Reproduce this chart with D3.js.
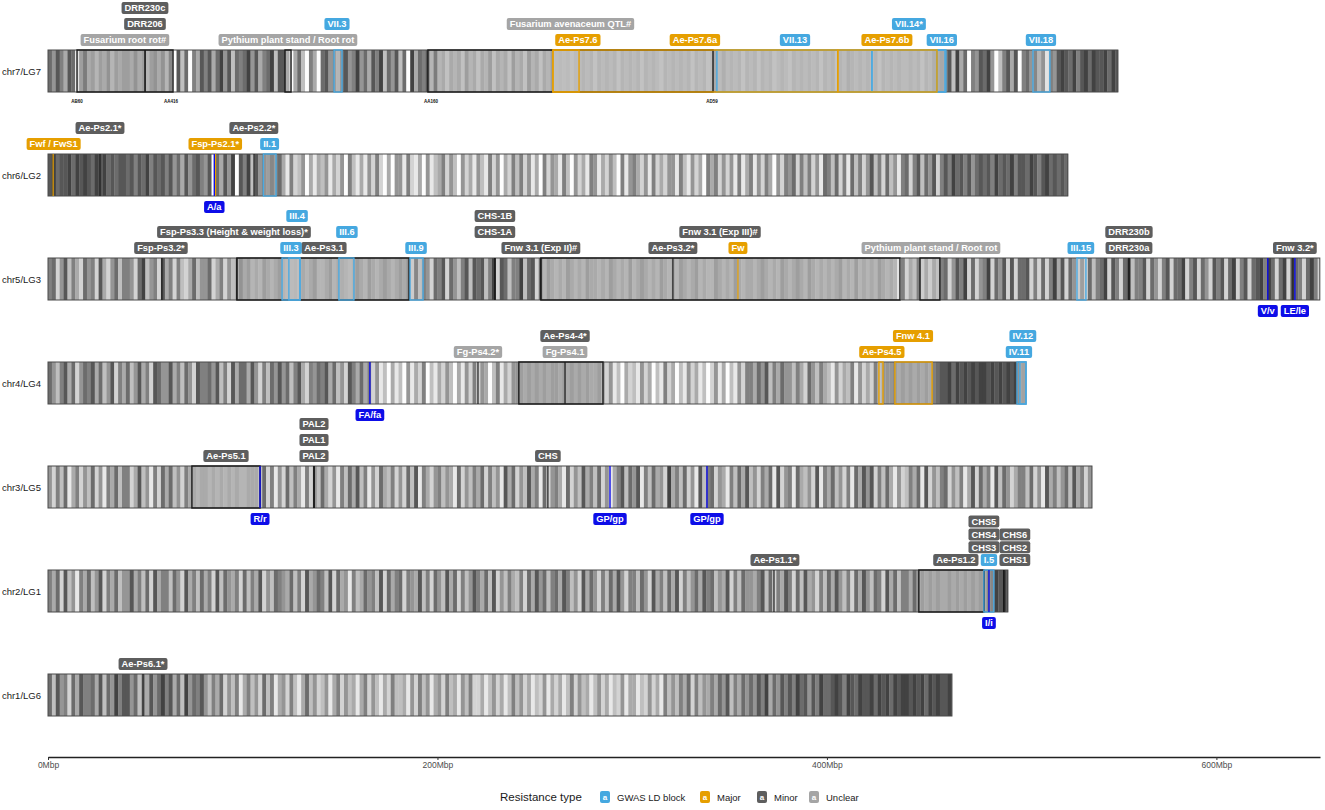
<!DOCTYPE html>
<html>
<head>
<meta charset="utf-8">
<script src="https://cdn.jsdelivr.net/npm/d3@7"></script>
<style>
body { margin: 0; background: #fff; }
svg { font-family: "Liberation Sans", Arial, Helvetica, sans-serif; }
</style>
</head>
<body>
<svg id="chart" width="1325" height="810"></svg>
<script>
// chromosomes, top to bottom
const chromosomes = ["chr7/LG7", "chr6/LG2", "chr5/LG3", "chr4/LG4", "chr3/LG5", "chr2/LG1", "chr1/LG6"]
const chrLengths = [549.4, 523.7, 653.1, 502.2, 536.1, 492.9, 464.2]

// marker density per 2 Mbp bin, 0 = none (white) .. 9 = dense (dark)
const binSize = 2
const density = [
  "7586487069" + "5646574656" + "6575646757" + "4808370648" + "6847958376" + "7958467938" + "8504730640" + "7856478569" + "5748693758" + "3709476849" +
  "4535453645" + "3546354536" + "4536453546" + "4545354545" + "3545453545" + "4535454354" + "5454535453" + "4546454535" + "4535453454" + "3545454535" +
  "4535465454" + "5453545454" + "4545354667" + "6839470658" + "7950368480" + "6758470658" + "9879689798" + "89798",
  "8978897989" + "8798978788" + "7868796878" + "6857485786" + "5807485908" + "6938576867" + "4162350414" + "3514250631" + "4152620405" + "5162140513" +
  "4625305241" + "5316250426" + "3625140625" + "4163052416" + "5142530615" + "6425162425" + "5163152406" + "4625251614" + "6152640526" + "5726362517" +
  "6372617362" + "5836273516" + "7268375826" + "8697868578" + "7869787968" + "8798689787" + "87",
  "6725836427" + "5628425736" + "6527935628" + "4626324735" + "5724625347" + "5645465456" + "5456454564" + "4564565456" + "5465456545" + "6572836527" +
  "6827536838" + "7836928736" + "6937827465" + "4546545465" + "5454654546" + "4565454654" + "5465456454" + "4654546545" + "5456545465" + "4565465454" +
  "5456454645" + "4546545406" + "2436252536" + "7258692725" + "6927582827" + "7826272694" + "8275262736" + "7928627836" + "6827526827" + "7926827528" +
  "6827926827" + "8969727928" + "7627962",
  "7536847257" + "6847358264" + "7358462875" + "5846375286" + "6758362847" + "7485263758" + "5736842657" + "6847352864" + "7462513041" + "3051426031" +
  "4253041526" + "2540361425" + "5656565656" + "6565656565" + "5642513042" + "3152403162" + "4031524130" + "2514031526" + "6475836475" + "5364275364" +
  "3152436152" + "4263555656" + "5656565678" + "8979898989" + "9898989897" + "8",
  "5263714625" + "3725164736" + "6248351627" + "4735264545" + "5454545454" + "4555372615" + "2736416253" + "7425163748" + "3615274362" + "5273816425" +
  "6354172536" + "4726351847" + "2538461725" + "6417253846" + "3725146837" + "5816374529" + "4637251836" + "7254163748" + "3526471825" + "6174352816" +
  "4735261748" + "5826374152" + "3647182536" + "7253614827" + "4618375246" + "6372518463" + "57384625",
  "6472835164" + "7358264735" + "5846372846" + "6375284637" + "4628375462" + "7364825376" + "5473628457" + "6382745163" + "4756382746" + "7265483627" +
  "5384726358" + "6473825364" + "3627485736" + "7486352847" + "5263748526" + "6375284637" + "4826357486" + "7354826375" + "5468372648" + "6273845263" +
  "7485362748" + "5376284736" + "6475656565" + "5656565656" + "5889898",
  "7385627486" + "6748375968" + "8573648579" + "6847395768" + "5364725361" + "4635273614" + "5263147352" + "3514625341" + "4625314263" + "3415263514" +
  "5263415362" + "2413524136" + "3524132514" + "2413625341" + "3524132514" + "4132524163" + "5364726354" + "6475836475" + "7586947586" + "8697858697" +
  "7898698798" + "8979897989" + "9898979898" + "89"
]

// resistance loci: chromosome, name, type, start Mbp, end Mbp, label lane, label position Mbp
const loci = [
  ["chr7/LG7", "Fusarium root rot#", "Unclear", 14.9, 64.2, 1, 39.5],
  ["chr7/LG7", "DRR206", "Minor", 49.5, 50.2, 2, 49.8],
  ["chr7/LG7", "DRR230c", "Minor", 49.5, 50.2, 3, 49.8],
  ["chr7/LG7", "Pythium plant stand / Root rot", "Unclear", 121.7, 124.8, 1, 123.2],
  ["chr7/LG7", "VII.3", "GWAS", 146.9, 151.0, 2, 148.4],
  ["chr7/LG7", "Fusarium avenaceum QTL#", "Unclear", 195.1, 341.5, 2, 268.3],
  ["chr7/LG7", "Ae-Ps7.6", "Major", 259.3, 272.7, 1, 272.1],
  ["chr7/LG7", "Ae-Ps7.6a", "Major", 259.3, 405.6, 1, 332.2],
  ["chr7/LG7", "VII.13", "GWAS", 343.5, 423.1, 1, 383.6],
  ["chr7/LG7", "Ae-Ps7.6b", "Major", 405.6, 456.5, 1, 430.8],
  ["chr7/LG7", "VII.14*", "GWAS", 423.1, 461.1, 2, 442.1],
  ["chr7/LG7", "VII.16", "GWAS", 456.5, 460.6, 1, 459.0],
  ["chr7/LG7", "VII.18", "GWAS", 505.8, 514.5, 1, 509.9],
  ["chr6/LG2", "Fwf / FwS1", "Major", 2.4, 2.9, 1, 2.9],
  ["chr6/LG2", "Ae-Ps2.1*", "Minor", 26.4, 27.0, 2, 26.7],
  ["chr6/LG2", "Fsp-Ps2.1*", "Major", 85.8, 86.3, 1, 85.9],
  ["chr6/LG2", "Ae-Ps2.2*", "Minor", 105.5, 106.1, 2, 105.7],
  ["chr6/LG2", "II.1", "GWAS", 110.6, 117.1, 1, 113.8],
  ["chr5/LG3", "Fsp-Ps3.2*", "Minor", 58.2, 58.8, 1, 58.0],
  ["chr5/LG3", "Fsp-Ps3.3 (Height & weight loss)*", "Minor", 96.7, 97.3, 2, 95.5],
  ["chr5/LG3", "Ae-Ps3.1", "Minor", 97.0, 185.4, 1, 141.7],
  ["chr5/LG3", "III.3", "GWAS", 120.2, 129.4, 1, 124.8],
  ["chr5/LG3", "III.4", "GWAS", 123.7, 129.4, 3, 127.9],
  ["chr5/LG3", "III.6", "GWAS", 149.4, 157.1, 2, 153.5],
  ["chr5/LG3", "III.9", "GWAS", 185.9, 192.6, 1, 189.0],
  ["chr5/LG3", "CHS-1A", "Minor", 229.2, 229.8, 2, 229.5],
  ["chr5/LG3", "CHS-1B", "Minor", 229.2, 229.8, 3, 229.5],
  ["chr5/LG3", "Fnw 3.1 (Exp II)#", "Minor", 252.8, 253.4, 1, 253.1],
  ["chr5/LG3", "Fnw 3.1 (Exp III)#", "Minor", 253.1, 437.5, 2, 345.1],
  ["chr5/LG3", "Ae-Ps3.2*", "Minor", 320.6, 321.2, 1, 320.9],
  ["chr5/LG3", "Fw", "Major", 354.0, 354.6, 1, 354.3],
  ["chr5/LG3", "Pythium plant stand / Root rot", "Unclear", 447.8, 458.0, 1, 453.4],
  ["chr5/LG3", "III.15", "GWAS", 528.4, 533.0, 1, 530.4],
  ["chr5/LG3", "DRR230a", "Minor", 554.8, 555.4, 1, 555.1],
  ["chr5/LG3", "DRR230b", "Minor", 554.8, 555.4, 2, 555.1],
  ["chr5/LG3", "Fnw 3.2*", "Minor", 639.0, 639.6, 1, 640.3],
  ["chr4/LG4", "Fg-Ps4.2*", "Unclear", 220.5, 221.1, 1, 220.8],
  ["chr4/LG4", "Ae-Ps4-4*", "Minor", 241.8, 285.0, 2, 265.5],
  ["chr4/LG4", "Fg-Ps4.1", "Unclear", 265.2, 265.8, 1, 265.5],
  ["chr4/LG4", "Ae-Ps4.5", "Major", 426.7, 428.8, 1, 428.2],
  ["chr4/LG4", "Fnw 4.1", "Major", 434.9, 454.0, 2, 444.2],
  ["chr4/LG4", "IV.11", "GWAS", 497.6, 502.2, 1, 498.6],
  ["chr4/LG4", "IV.12", "GWAS", 499.1, 502.2, 2, 500.6],
  ["chr3/LG5", "Ae-Ps5.1", "Minor", 73.9, 108.9, 1, 91.4],
  ["chr3/LG5", "PAL2", "Minor", 136.3, 136.9, 1, 136.6],
  ["chr3/LG5", "PAL1", "Minor", 136.3, 136.9, 2, 136.6],
  ["chr3/LG5", "PAL2", "Minor", 136.3, 136.9, 3, 136.6],
  ["chr3/LG5", "CHS", "Minor", 256.4, 257.0, 1, 256.7],
  ["chr2/LG1", "Ae-Ps1.1*", "Minor", 372.5, 373.1, 1, 373.3],
  ["chr2/LG1", "Ae-Ps1.2", "Minor", 447.2, 480.6, 1, 466.2],
  ["chr2/LG1", "I.5", "GWAS", 480.6, 485.7, 1, 483.2],
  ["chr2/LG1", "CHS3", "Minor", 480.3, 480.9, 1.8, 480.6],
  ["chr2/LG1", "CHS4", "Minor", 480.3, 480.9, 2.6, 480.6],
  ["chr2/LG1", "CHS5", "Minor", 480.3, 480.9, 3.4, 480.6],
  ["chr2/LG1", "CHS1", "Minor", 490.5, 491.1, 1, 496.5],
  ["chr2/LG1", "CHS2", "Minor", 490.5, 491.1, 1.8, 496.5],
  ["chr2/LG1", "CHS6", "Minor", 490.5, 491.1, 2.6, 496.5],
  ["chr1/LG6", "Ae-Ps6.1*", "Minor", 48.5, 49.1, 1, 48.8]
]

// classical genes (blue, labelled under the bar)
const geneChr = ["chr6/LG2", "chr5/LG3", "chr5/LG3", "chr4/LG4", "chr3/LG5", "chr3/LG5", "chr3/LG5", "chr2/LG1"]
const geneName = ["A/a", "V/v", "LE/le", "FA/fa", "R/r", "GP/gp", "GP/gp", "I/i"]
const genePos = [85.4, 626.4, 640.3, 165.3, 108.9, 288.6, 338.4, 483.2]

// flanking markers printed under chr7
const markerName = ["AB60", "AA416", "AA160", "AD59"]
const markerPos = [14.9, 63.2, 196.7, 341.0]

const axisTicks = [0, 200, 400, 600]
const typeKeys = ["GWAS", "Major", "Minor", "Unclear"]
const typeLabels = ["GWAS LD block", "Major", "Minor", "Unclear"]

const typeColor = { GWAS: "#45a8e0", Major: "#e69f00", Minor: "#5e5e5e", Unclear: "#a5a5a5" }
const typeStroke = { GWAS: "#4aaae2", Major: "#e69f00", Minor: "#1a1a1a", Unclear: "#1a1a1a" }
const geneColor = "#0d0de8"

let svg = d3.select('#chart')

let x = d3.scaleLinear().domain([0, 653.2]).range([48, 1320])
let y = d3.scalePoint().domain(chromosomes).range([71, 695])
const barH = 42
let gray = d3.scaleLinear().domain([0, 9]).range(["#fdfdfd", "#424242"])

function barTop (chr) { return y(chr) - barH / 2 }

// stripes
chromosomes.forEach((chr, i) => {
    let vals = density[i].split('').map(Number)
    let len = chrLengths[i]
    svg.append('g').selectAll('rect')
        .data(vals)
        .enter()
        .append('rect')
        .attr('x', (d, j) => x(j * binSize))
        .attr('y', barTop(chr))
        .attr('width', (d, j) => {
            let s = j * binSize
            let e = Math.min((j + 1) * binSize, len)
            return Math.max(0, x(e) - x(s) + 0.3)
        })
        .attr('height', barH)
        .attr('fill', d => gray(d))
})

const order = { Unclear: 0, Minor: 1, GWAS: 2, Major: 3 }
let lociData = loci.map(r => ({ chr: r[0], name: r[1], type: r[2], start: r[3], end: r[4], lane: r[5], lx: r[6] }))
let blocks = lociData.filter(d => x(d.end) - x(d.start) >= 3)
let narrow = lociData.filter(d => x(d.end) - x(d.start) < 3)

// muted fill inside blocks
svg.append('g').selectAll('rect')
    .data(blocks)
    .enter()
    .append('rect')
    .attr('x', d => x(d.start))
    .attr('y', d => barTop(d.chr))
    .attr('width', d => x(d.end) - x(d.start))
    .attr('height', barH)
    .attr('fill', '#c4c4c4')
    .attr('opacity', 0.45)

// chromosome outlines
svg.append('g').selectAll('rect')
    .data(chromosomes)
    .enter()
    .append('rect')
    .attr('x', x(0))
    .attr('y', d => barTop(d))
    .attr('width', (d, i) => x(chrLengths[i]) - x(0))
    .attr('height', barH)
    .attr('fill', 'none')
    .attr('stroke', '#4a4a4a')
    .attr('stroke-width', 1)

// chromosome names
svg.append('g').selectAll('text')
    .data(chromosomes)
    .enter()
    .append('text')
    .attr('x', 41)
    .attr('y', d => y(d) + 3.5)
    .attr('text-anchor', 'end')
    .attr('font-size', '9.5px')
    .attr('fill', '#1a1a1a')
    .text(d => d)

// narrow loci as lines
svg.append('g').selectAll('line')
    .data(narrow.slice().sort((a, b) => order[a.type] - order[b.type]))
    .enter()
    .append('line')
    .attr('x1', d => x((d.start + d.end) / 2))
    .attr('x2', d => x((d.start + d.end) / 2))
    .attr('y1', d => barTop(d.chr))
    .attr('y2', d => barTop(d.chr) + barH)
    .attr('stroke', d => typeStroke[d.type])
    .attr('stroke-width', 1.2)

// block outlines
svg.append('g').selectAll('rect')
    .data(blocks.slice().sort((a, b) => order[a.type] - order[b.type]))
    .enter()
    .append('rect')
    .attr('x', d => x(d.start))
    .attr('y', d => barTop(d.chr))
    .attr('width', d => x(d.end) - x(d.start))
    .attr('height', barH)
    .attr('fill', 'none')
    .attr('stroke', d => typeStroke[d.type])
    .attr('stroke-width', 1.4)

// genes
let genes = geneName.map((n, i) => ({ chr: geneChr[i], name: n, pos: genePos[i] }))
svg.append('g').selectAll('line')
    .data(genes)
    .enter()
    .append('line')
    .attr('x1', d => x(d.pos))
    .attr('x2', d => x(d.pos))
    .attr('y1', d => barTop(d.chr))
    .attr('y2', d => barTop(d.chr) + barH)
    .attr('stroke', geneColor)
    .attr('stroke-width', 1.4)

// label box helper
function drawLabel (g, text, cx, cy, fill) {
    let grp = g.append('g')
    let rect = grp.append('rect')
    let t = grp.append('text')
        .attr('x', cx)
        .attr('y', cy + 3.3)
        .attr('text-anchor', 'middle')
        .attr('font-size', '9.3px')
        .attr('font-weight', 'bold')
        .attr('fill', '#ffffff')
        .text(text)
    let w = t.node().getComputedTextLength() + 6
    rect.attr('x', cx - w / 2)
        .attr('y', cy - 6)
        .attr('width', w)
        .attr('height', 12)
        .attr('rx', 2)
        .attr('fill', fill)
}

let labelLayer = svg.append('g')
lociData.forEach(d => {
    let cy = barTop(d.chr) - 10 - (d.lane - 1) * 16
    drawLabel(labelLayer, d.name, x(d.lx), cy, typeColor[d.type])
})
genes.forEach(d => {
    drawLabel(labelLayer, d.name, x(d.pos), barTop(d.chr) + barH + 11, geneColor)
})

// small marker names under chr7
svg.append('g').selectAll('text')
    .data(markerName)
    .enter()
    .append('text')
    .attr('x', (d, i) => x(markerPos[i]))
    .attr('y', barTop('chr7/LG7') + barH + 11)
    .attr('text-anchor', 'middle')
    .attr('font-size', '4.5px')
    .attr('font-weight', 'bold')
    .attr('fill', '#111')
    .text(d => d)

// x axis
let axis = d3.axisBottom(x)
    .tickValues(axisTicks)
    .tickFormat(d => d + 'Mbp')
    .tickSize(3)
    .tickSizeOuter(0)
let ag = svg.append('g')
    .attr('transform', 'translate(0,757)')
    .call(axis)
ag.select('.domain').attr('stroke', '#222').attr('stroke-width', 1.3)
ag.selectAll('.tick line').attr('stroke', '#333')
ag.selectAll('.tick text')
    .attr('font-size', '8.5px')
    .attr('font-family', '"Liberation Sans", Arial, sans-serif')
    .attr('fill', '#4d4d4d')
    .attr('dy', '0.6em')

// legend
let lg = svg.append('g')
lg.append('text')
    .attr('x', 500)
    .attr('y', 801)
    .attr('font-size', '11.5px')
    .attr('fill', '#1a1a1a')
    .text('Resistance type')
const keyX = [600, 700, 757, 809]
typeKeys.forEach((k, i) => {
    lg.append('rect')
        .attr('x', keyX[i])
        .attr('y', 791)
        .attr('width', 10)
        .attr('height', 12)
        .attr('rx', 2)
        .attr('fill', typeColor[k])
    lg.append('text')
        .attr('x', keyX[i] + 5)
        .attr('y', 800)
        .attr('text-anchor', 'middle')
        .attr('font-size', '8px')
        .attr('font-weight', 'bold')
        .attr('fill', '#fff')
        .text('a')
    lg.append('text')
        .attr('x', keyX[i] + 17)
        .attr('y', 800.5)
        .attr('font-size', '9.5px')
        .attr('fill', '#1a1a1a')
        .text(typeLabels[i])
})
</script>
</body>
</html>
